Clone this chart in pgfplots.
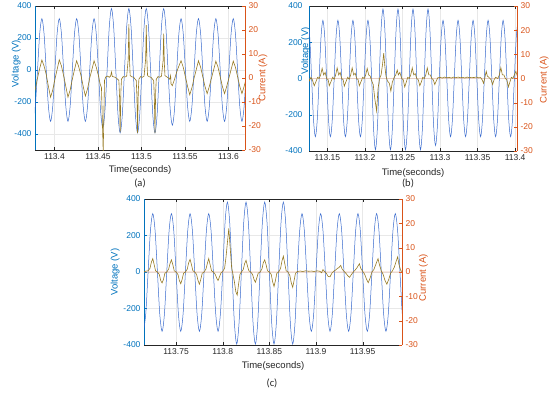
\documentclass[border=0pt]{standalone}
\usepackage{pgfplots}
\pgfplotsset{compat=1.18}
\usepackage{fontspec}
\setmainfont{Liberation Sans}
\newfontfamily\calib{Carlito}
\definecolor{mblue}{RGB}{0,114,189}
\definecolor{vline}{RGB}{55,105,205}
\definecolor{morange}{RGB}{217,83,25}
\definecolor{molive}{RGB}{150,122,35}
\definecolor{axgray}{RGB}{38,38,38}
\pgfplotsset{
  common/.style={scale only axis, tick align=inside, major tick length=3pt,
    tick label style={font=\fontsize{8.5}{9}\selectfont},
    label style={font=\fontsize{9.5}{10}\selectfont}},
  vstyle/.style={common, axis x line*=box, axis y line*=left,
    x axis line style={axgray}, y axis line style={mblue},
    xtick style={axgray}, ytick style={mblue},
    xticklabel style={text=axgray}, yticklabel style={text=mblue},
    ylabel style={text=mblue}, xlabel style={text=axgray},
    grid=major, grid style={gray!18, line width=0.4pt}},
  istyle/.style={common, axis x line=none, axis y line*=right,
    y axis line style={morange}, ytick style={morange},
    yticklabel style={text=morange}, ylabel style={text=morange},
    ymin=-30, ymax=30, ytick={-30,-20,-10,0,10,20,30},
    yticklabels={-30,-20,-10,0,10,20,30}, ylabel={Current (A)}},
}
\begin{document}
\begin{tikzpicture}
\path[use as bounding box] (0,0) rectangle (550pt,-394pt);
% ---------------- (a)
\begin{axis}[vstyle, at={(35pt,-150pt)}, anchor=south west, width=210pt, height=144pt,
  xmin=-22.4, xmax=219, ymin=-500, ymax=400,
  xtick={0,50,100,150,200}, xticklabels={113.4,113.45,113.5,113.55,113.6},
  ytick={-400,-200,0,200,400}, yticklabels={-400,-200,0,200,400},
  xlabel={Time(seconds)}, ylabel={Voltage (V)},
  xlabel style={at={(axis description cs:0.5,-0.139)}, anchor=center},
  ylabel style={at={(axis description cs:-0.09,0.6)}, anchor=center}]
\addplot[vline, line width=0.5pt, smooth] coordinates {
(-24.5,-321) (-22,-227) (-19.5,0) (-17,227) (-14.5,321) (-12,227) (-9.5,0) (-7,-227)
(-4.5,-321) (-2,-227) (0.5,0) (3,227) (5.5,321) (8,227) (10.5,0) (13,-227)
(15.5,-321) (18,-227) (20.5,0) (23,227) (25.5,321) (28,227) (30.5,0) (33,-227)
(35.5,-321) (38,-227) (40.5,0) (43,227) (45.5,321) (48,227) (50.5,0) (53,-255)
(55.5,-360) (58,-255) (60.5,0) (63,271) (65.5,384) (68,271) (70.5,0) (73,-278)
(75.5,-393) (78,-278) (80.5,0) (83,271) (85.5,384) (88,271) (90.5,0) (93,-278)
(95.5,-393) (98,-278) (100.5,0) (103,271) (105.5,384) (108,271) (110.5,0) (113,-278)
(115.5,-393) (118,-278) (120.5,0) (123,271) (125.5,384) (128,271) (130.5,0) (133,-244)
(135.5,-345) (138,-244) (140.5,0) (143,227) (145.5,321) (148,227) (150.5,0) (153,-227)
(155.5,-321) (158,-227) (160.5,0) (163,227) (165.5,321) (168,227) (170.5,0) (173,-227)
(175.5,-321) (178,-227) (180.5,0) (183,227) (185.5,321) (188,227) (190.5,0) (193,-227)
(195.5,-321) (198,-227) (200.5,0) (203,227) (205.5,321) (208,227) (210.5,0) (213,-227)
(215.5,-321) (218,-227) (220.5,0)};
\end{axis}
\begin{axis}[istyle, at={(35pt,-150pt)}, anchor=south west, width=210pt, height=144pt,
  xmin=-22.4, xmax=219,
  ylabel style={at={(axis description cs:1.085,0.5)}, anchor=center}]
\addplot[molive, line width=0.6pt] coordinates {
(-24.5,-7.8) (-22,-4.5) (-19.5,0) (-17,4) (-14.5,7.5) (-12,5) (-9.5,1.5) (-7,-3.5)
(-4.5,-8) (-2,-5) (0.5,-0.5) (3,3.5) (5.5,7.6) (8,5) (10.5,1) (13,-3.5)
(15.5,-8) (18,-5) (20.5,-0.5) (23,3.5) (25.5,7.2) (28,4.5) (30.5,1) (33,-3.5)
(35.5,-7.5) (38,-4.5) (40.5,0) (43,3.5) (45.5,7.2) (48,4.5) (50.5,1) (52.5,-2.5)
(54,-4) (56,-31) (57.5,-1) (59,0.5) (61,0.8) (63,0.3) (64.5,0.8) (65.5,2.5)
(66.5,0.6) (68,0.5) (70.5,0.2) (72.5,-0.5) (74,-1) (74.8,-8) (75.5,-22.7) (76.3,-6)
(77,-0.5) (79,0.6) (81,0.4) (83,0.8) (84.8,8) (85.5,22.5) (86.3,7) (87,1)
(89,0.5) (91,0.3) (92.5,-0.4) (94,-1) (94.8,-8) (95.5,-23) (96.3,-6) (97,-0.5)
(99,0.6) (101,0.3) (103,0.8) (104.8,8) (105.5,22) (106.3,7) (107,1) (109,0.5)
(111,0.3) (112.5,-0.4) (114,-1) (114.8,-8) (115.5,-23) (116.3,-6) (117,-0.5) (119,0.6)
(121,0.3) (123,0.8) (124.8,7) (125.5,18.5) (126.3,6) (127,1) (129,0.5) (131,0)
(132.5,-0.5) (133.5,1) (134,-2.5) (135.5,-3.2) (138,-0.5) (140.5,2.5) (143,5) (145.5,7.2)
(148,4.5) (150.5,0.5) (153,-3.5) (155.5,-7) (158,-4) (160.5,0) (163,3.5) (165.5,7.2)
(168,4.5) (170.5,0.5) (173,-3.5) (175.5,-6.5) (178,-3.5) (180.5,0) (183,3.5) (185.5,7)
(188,4.5) (190.5,0.5) (193,-3.5) (195.5,-6.5) (198,-3.5) (200.5,0) (203,3.5) (205.5,7)
(208,4.5) (210.5,0.5) (213,-3.5) (215.5,-6.5) (218,-3.5) (220.5,0)};
\end{axis}
% ---------------- (b)
\begin{axis}[vstyle, at={(309pt,-151pt)}, anchor=south west, width=208pt, height=145pt,
  xmin=-74.5, xmax=202.5, ymin=-400, ymax=400,
  xtick={-50,0,50,100,150,200}, xticklabels={113.15,113.2,113.25,113.3,113.35,113.4},
  ytick={-400,-200,0,200,400}, yticklabels={-400,-200,0,200,400},
  yticklabel style={xshift=-3pt},
  xlabel={Time(seconds)}, ylabel={Voltage (V)},
  xlabel style={at={(axis description cs:0.5,-0.152)}, anchor=center},
  ylabel style={at={(axis description cs:-0.016,0.69)}, anchor=center}]
\addplot[vline, line width=0.5pt, smooth] coordinates {
(-76,321) (-73.5,227) (-71,0) (-68.5,-227) (-66,-321) (-63.5,-227) (-61,0) (-58.5,227)
(-56,321) (-53.5,227) (-51,0) (-48.5,-227) (-46,-321) (-43.5,-227) (-41,0) (-38.5,227)
(-36,321) (-33.5,227) (-31,0) (-28.5,-227) (-26,-321) (-23.5,-227) (-21,0) (-18.5,227)
(-16,321) (-13.5,227) (-11,0) (-8.5,-227) (-6,-321) (-3.5,-227) (-1,0) (1.5,227)
(4,321) (6.5,227) (9,0) (11.5,-278) (14,-393) (16.5,-278) (19,0) (21.5,271)
(24,383) (26.5,271) (29,0) (31.5,-278) (34,-393) (36.5,-278) (39,0) (41.5,271)
(44,383) (46.5,271) (49,0) (51.5,-278) (54,-393) (56.5,-278) (59,0) (61.5,271)
(64,383) (66.5,271) (69,0) (71.5,-278) (74,-393) (76.5,-278) (79,0) (81.5,271)
(84,383) (86.5,271) (89,0) (91.5,-262) (94,-370) (96.5,-262) (99,0) (101.5,227)
(104,321) (106.5,227) (109,0) (111.5,-227) (114,-321) (116.5,-227) (119,0) (121.5,227)
(124,321) (126.5,227) (129,0) (131.5,-227) (134,-321) (136.5,-227) (139,0) (141.5,227)
(144,321) (146.5,227) (149,0) (151.5,-227) (154,-321) (156.5,-227) (159,0) (161.5,227)
(164,321) (166.5,227) (169,0) (171.5,-227) (174,-321) (176.5,-227) (179,0) (181.5,227)
(184,321) (186.5,227) (189,0) (191.5,-227) (194,-321) (196.5,-227) (199,0) (201.5,227)
(204,321)};
\end{axis}
\begin{axis}[istyle, at={(309pt,-151pt)}, anchor=south west, width=208pt, height=145pt,
  xmin=-74.5, xmax=202.5,
  ylabel style={at={(axis description cs:1.13,0.49)}, anchor=center}]
\addplot[morange!60, line width=1.2pt, opacity=0.3] coordinates {(-80,0) (210,0)};
\addplot[molive, line width=0.6pt] coordinates {
(-76,0.5) (-74,-1) (-72,0.5) (-70,-0.5) (-67.5,-3) (-65.5,-1.5) (-63,0.5) (-61,0)
(-59,1.5) (-57,4.2) (-55,1.5) (-53,2.5) (-51,0) (-49,-0.5) (-47.5,-3) (-45.5,-1.5)
(-43,0.5) (-41,-0.3) (-39,1.5) (-37,4.4) (-35,1.5) (-33,2.5) (-31,0) (-29,-0.5)
(-27.5,-3.2) (-25.5,-1.5) (-23,0.5) (-21,-0.3) (-19,1.5) (-17,4.4) (-15,1.5) (-13,2.2)
(-11,0) (-9,-0.5) (-7.5,-3) (-5.5,-1.5) (-3,0.5) (-1,0) (1,1.5) (3,4.2)
(5,1.5) (7,1) (9,-1) (11,-2.5) (13,-8) (15.5,-13.4) (17.5,-4) (19.5,0)
(21.5,1.5) (23.5,6) (25,10.5) (26.5,5) (28,1) (30,-1) (32.5,-2) (34.5,-5.2)
(36.5,-1.5) (39,0.5) (41,1.5) (43,3.5) (44.5,1.5) (46.5,2.5) (49,0) (51,-0.5)
(53,-3.5) (55,-1.5) (57,0.5) (59,0) (61,1.5) (63,4.4) (65,1.5) (67,2)
(69,0) (71,-0.5) (73,-3) (75,-1.5) (77,0.5) (79,0) (81,1.5) (83,4.4)
(85,1.5) (87,1.5) (89,0) (91,-0.5) (93,-2.5) (95,-1) (97,0.3) (100,0.5)
(103,0.2) (106,0.6) (109,0.3) (112,0.5) (115,0.2) (118,0.6) (121,0.3) (124,0.6)
(127,0.3) (130,0.5) (133,0.2) (136,0.6) (139,0.3) (142,0.5) (145,0.4) (148,0.6)
(151,0.3) (154,0.4) (156,-0.5) (158,-2) (159.5,0) (161.5,3) (163,1) (165,0.5)
(168,-0.5) (170,-2.5) (172,-0.5) (174,0.5) (177,0) (179,1.5) (181,4.5) (183,1.5)
(185,1.5) (187,0) (189,-0.5) (191,-3.5) (193,-1.5) (195,0.5) (197,0) (199,1.5)
(201,3) (203,1)};
\end{axis}
% ---------------- (c)
\begin{axis}[vstyle, at={(144pt,-345pt)}, anchor=south west, width=258pt, height=146pt,
  xmin=-84.4, xmax=192.2, ymin=-400, ymax=400,
  xtick={-50,0,50,100,150}, xticklabels={113.75,113.8,113.85,113.9,113.95},
  ytick={-400,-200,0,200,400}, yticklabels={-400,-200,0,200,400},
  xlabel={Time(seconds)}, ylabel={Voltage (V)},
  xlabel style={at={(axis description cs:0.5,-0.144)}, anchor=center},
  ylabel style={at={(axis description cs:-0.112,0.5)}, anchor=center}]
\addplot[vline, line width=0.5pt, smooth] coordinates {
(-85,-325) (-82.5,-228) (-80,0) (-77.5,226) (-75,320) (-72.5,226) (-70,0) (-67.5,-230)
(-65,-325) (-62.5,-230) (-60,0) (-57.5,226) (-55,320) (-52.5,226) (-50,0) (-47.5,-230)
(-45,-325) (-42.5,-230) (-40,0) (-37.5,226) (-35,320) (-32.5,226) (-30,0) (-27.5,-230)
(-25,-325) (-22.5,-230) (-20,0) (-17.5,226) (-15,320) (-12.5,226) (-10,0) (-7.5,-230)
(-5,-325) (-2.5,-230) (0,0) (2.5,271) (5,383) (7.5,271) (10,0) (12.5,-279)
(15,-395) (17.5,-279) (20,0) (22.5,271) (25,383) (27.5,271) (30,0) (32.5,-279)
(35,-395) (37.5,-279) (40,0) (42.5,271) (45,383) (47.5,271) (50,0) (52.5,-279)
(55,-395) (57.5,-279) (60,0) (62.5,271) (65,383) (67.5,271) (70,0) (72.5,-279)
(75,-395) (77.5,-279) (80,0) (82.5,226) (85,320) (87.5,226) (90,0) (92.5,-230)
(95,-325) (97.5,-230) (100,0) (102.5,226) (105,320) (107.5,226) (110,0) (112.5,-230)
(115,-325) (117.5,-230) (120,0) (122.5,226) (125,320) (127.5,226) (130,0) (132.5,-230)
(135,-325) (137.5,-230) (140,0) (142.5,226) (145,320) (147.5,226) (150,0) (152.5,-230)
(155,-325) (157.5,-230) (160,0) (162.5,226) (165,320) (167.5,226) (170,0) (172.5,-230)
(175,-325) (177.5,-230) (180,0) (182.5,226) (185,320) (187.5,226) (190,0) (192.5,-230)
(195,-325)};
\end{axis}
\begin{axis}[istyle, at={(144pt,-345pt)}, anchor=south west, width=258pt, height=146pt,
  xmin=-84.4, xmax=192.2,
  ylabel style={at={(axis description cs:1.083,0.46)}, anchor=center}]
\addplot[morange!60, line width=1.2pt, opacity=0.2] coordinates {(-90,0) (200,0)};
\addplot[molive, line width=0.6pt] coordinates {
(-85,0) (-83,0.3) (-80,0.5) (-78,1.5) (-76.5,4) (-75,5.5) (-73.5,3) (-72,0.5)
(-70,0) (-68,-1) (-66.5,-3.5) (-65,-4.5) (-63.5,-3) (-62,-0.5) (-60,0) (-58,1.2)
(-56.5,3.5) (-55,5) (-53.5,3) (-52,0.5) (-50,0) (-48,-1) (-46.5,-3.5) (-45,-4.8)
(-43.5,-3) (-42,-0.5) (-40,0) (-38,1.2) (-36.5,3.8) (-35,5.2) (-33.5,3) (-32,0.5)
(-30,0) (-28,-1) (-26.5,-3.5) (-25,-5) (-23.5,-3) (-22,-0.5) (-20,0) (-18,1.2)
(-16.5,3.5) (-15,5.5) (-13.5,3) (-12,0.5) (-10,0) (-8,-1) (-6.5,-2.5) (-5,-3.5)
(-3.5,-2) (-2,-0.5) (0,0.3) (2,1.5) (3.5,6) (5,12) (6.5,17.9) (8,10)
(9.5,2) (11,-1) (12.5,-4) (14,-8) (15.5,-9.5) (17,-5) (18.5,-1) (20,0)
(22,1) (23.5,3.5) (25,4.8) (26.5,2.5) (28,0.5) (30,0) (32,-1) (33.5,-3)
(35,-4.2) (36.5,-2.5) (38,-0.5) (40,0) (42,1.2) (43.5,3.8) (45,5) (46.5,3)
(48,0.5) (50,0) (52,-1) (53.5,-4) (55,-6) (56.5,-3.5) (58,-0.5) (60,0)
(62,1.5) (63.5,4.5) (65,6.5) (66.5,3.5) (68,0.5) (70,0) (72,-1.5) (73.5,-4.5)
(75,-6.3) (76.5,-3.5) (78,-0.5) (80,0.2) (83,0.4) (86,0.2) (89,0.5) (92,0.3)
(95,0.4) (98,0.2) (101,0.5) (104,0.3) (106,-0.3) (107.5,1) (109,0.2) (111,-0.5)
(113,-1.8) (115,-2) (117,-0.5) (119,0.3) (121,0.8) (123,1.5) (124.5,1.8) (126.5,2.7)
(128,1.2) (130,0.3) (132,-0.5) (134,-1.5) (136,-2.2) (138,-1) (140,0) (142,0.8)
(144,1.8) (146.5,3.4) (148,1.5) (150,0.3) (152,-0.8) (154,-2.8) (156,-4.4) (158,-2.5)
(160,0) (162,1) (164,3) (166.5,5.5) (168,3) (170,0.5) (172,-1) (174,-3.5)
(176,-5) (178,-3) (180,-0.5) (182,0.5) (184,2) (186,4.5) (187.5,6.2) (189,3)
(191,0.5) (193,0)};
\end{axis}
\node[font=\calib\fontsize{10.5}{12}\selectfont, text=axgray] at (140pt,-183pt) {(a)};
\node[font=\calib\fontsize{10.5}{12}\selectfont, text=axgray] at (408pt,-183pt) {(b)};
\node[font=\calib\fontsize{10.5}{12}\selectfont, text=axgray] at (272pt,-383pt) {(c)};
\end{tikzpicture}
\end{document}
